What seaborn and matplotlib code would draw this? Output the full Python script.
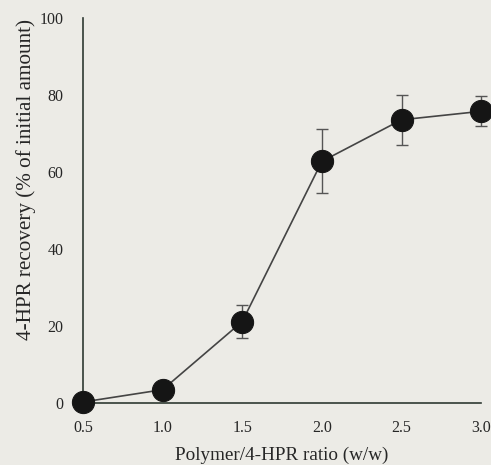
import matplotlib
matplotlib.use('Agg')
import matplotlib.pyplot as plt
import seaborn as sns
import pandas as pd

# data
ratio = [0.5, 1.0, 1.5, 2.0, 2.5, 3.0]
recovery = [0.3, 3.5, 21.2, 62.8, 73.6, 75.8]
err = [0.0, 0.0, 4.3, 8.3, 6.5, 3.9]

x_ticks = [0.5, 1.0, 1.5, 2.0, 2.5, 3.0]
x_labels = ['0.5', '1.0', '1.5', '2.0', '2.5', '3.0']
y_ticks = [0, 20, 40, 60, 80, 100]

sns.set_style('white')
plt.rcParams['font.family'] = ['Liberation Serif', 'DejaVu Serif']

df = pd.DataFrame({'ratio': ratio, 'recovery': recovery, 'err': err})

bg = '#ecebe6'
ink = '#2f3a33'
txt = '#262626'

fig = plt.figure(figsize=(4.91, 4.65), dpi=100, facecolor=bg)
ax = fig.add_axes([0.169, 0.133, 0.811, 0.828])
ax.set_facecolor(bg)

# error bars first, then line + markers on top
ax.errorbar(df['ratio'], df['recovery'], yerr=df['err'], fmt='none',
            ecolor='#555555', elinewidth=1.0, capsize=4, capthick=1.0,
            clip_on=False, zorder=2)
sns.lineplot(data=df, x='ratio', y='recovery', ax=ax, color='#444444',
             linewidth=1.2, marker='o', markersize=16,
             markerfacecolor='#151515', markeredgecolor='#151515',
             clip_on=False, zorder=3)

ax.set_xlim(0.5, 3.0)
ax.set_ylim(0, 100)
ax.set_xticks(x_ticks)
ax.set_xticklabels(x_labels)
ax.set_yticks(y_ticks)

for side in ['top', 'right']:
    ax.spines[side].set_visible(False)
for side in ['left', 'bottom']:
    ax.spines[side].set_color(ink)
    ax.spines[side].set_linewidth(1.2)

ax.tick_params(direction='in', length=3, width=1, colors=ink,
               labelcolor=txt, labelsize=11.5)
ax.tick_params(axis='y', pad=14)
ax.tick_params(axis='x', pad=12)

ax.set_xlabel('Polymer/4-HPR ratio (w/w)', fontsize=13.8, color=txt, labelpad=8)
ax.set_ylabel('4-HPR recovery (% of initial amount)', fontsize=15.2, color=txt)
# label in the scan sits above the axes centre
ax.yaxis.set_label_coords(-0.118, 0.58)

fig.savefig('out.png', dpi=100, facecolor=bg)
